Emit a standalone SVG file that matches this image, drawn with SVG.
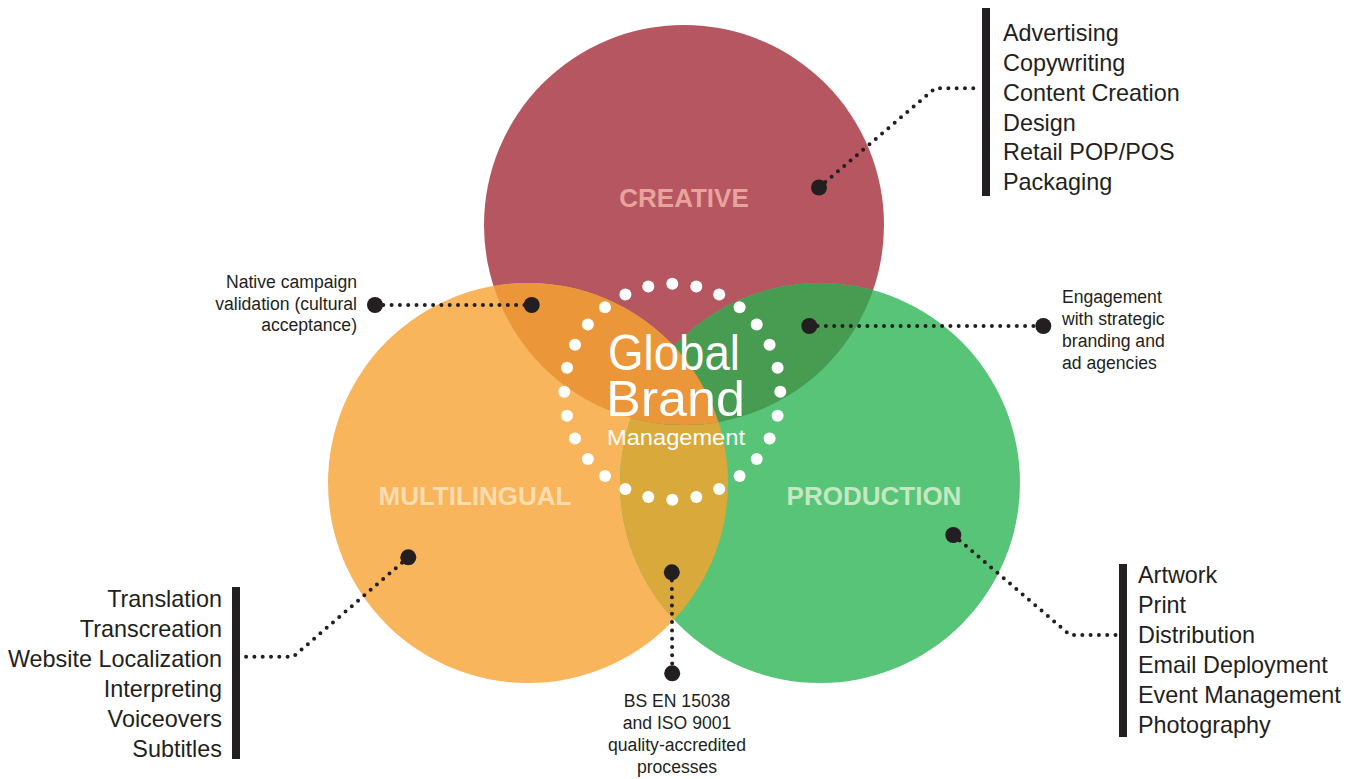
<svg xmlns="http://www.w3.org/2000/svg" width="1357" height="779" viewBox="0 0 1357 779">
  <style>
    .lbl { font-family: "Liberation Sans", Arial, sans-serif; font-weight: bold; font-size: 26px; text-anchor: middle; }
    .list { font-family: "Liberation Sans", Arial, sans-serif; font-size: 23.4px; fill: #231F20; }
    .note { font-family: "Liberation Sans", Arial, sans-serif; font-size: 17.6px; fill: #231F20; }
    .title { font-family: "Liberation Sans", Arial, sans-serif; fill: #FFFFFF; }
    .bar { fill: #231F20; }
    .pin { fill: #231F20; }
    .dots { fill: none; stroke: #231F20; stroke-width: 4; stroke-linecap: round; stroke-linejoin: round; stroke-dasharray: 0 8.3; }
    .ring circle { fill: #FFFFFF; }
  </style>
  <defs>
    <clipPath id="clipCreative"><circle cx="684" cy="225" r="200"/></clipPath>
    <clipPath id="clipMulti"><circle cx="528" cy="483" r="200"/></clipPath>
  </defs>

  <rect width="1357" height="779" fill="#FFFFFF"/>

  <!-- base circles -->
  <g id="creative"><circle cx="684" cy="225" r="200" fill="#B55661"/></g>
  <g id="multilingual"><circle cx="528" cy="483" r="200" fill="#F8B55B"/></g>
  <g id="production"><circle cx="820" cy="483" r="200" fill="#57C478"/></g>

  <!-- overlaps -->
  <g id="overlaps">
    <circle cx="820" cy="483" r="200" fill="#D9A93B" clip-path="url(#clipMulti)"/>
    <circle cx="820" cy="483" r="200" fill="#479C52" clip-path="url(#clipCreative)"/>
    <circle cx="528" cy="483" r="200" fill="#EC963A" clip-path="url(#clipCreative)"/>
  </g>

  <!-- circle labels -->
  <g id="labels">
    <text class="lbl" x="684" y="207" fill="#E8A39D">CREATIVE</text>
    <text class="lbl" x="475" y="505" fill="#FDDDB0">MULTILINGUAL</text>
    <text class="lbl" x="874" y="505" fill="#C5E8C2">PRODUCTION</text>
  </g>

  <!-- centre ring of dots and title -->
  <g id="center">
    <g class="ring">
      <circle cx="672.3" cy="283.7" r="6"/><circle cx="696.3" cy="286.4" r="6"/>
      <circle cx="719.2" cy="294.4" r="6"/><circle cx="739.6" cy="307.3" r="6"/>
      <circle cx="756.7" cy="324.4" r="6"/><circle cx="769.6" cy="344.8" r="6"/>
      <circle cx="777.6" cy="367.7" r="6"/><circle cx="780.3" cy="391.7" r="6"/>
      <circle cx="777.6" cy="415.7" r="6"/><circle cx="769.6" cy="438.6" r="6"/>
      <circle cx="756.7" cy="459.0" r="6"/><circle cx="739.6" cy="476.1" r="6"/>
      <circle cx="719.2" cy="489.0" r="6"/><circle cx="696.3" cy="497.0" r="6"/>
      <circle cx="672.3" cy="499.7" r="6"/><circle cx="648.3" cy="497.0" r="6"/>
      <circle cx="625.4" cy="489.0" r="6"/><circle cx="605.0" cy="476.1" r="6"/>
      <circle cx="587.9" cy="459.0" r="6"/><circle cx="575.0" cy="438.6" r="6"/>
      <circle cx="567.0" cy="415.7" r="6"/><circle cx="564.3" cy="391.7" r="6"/>
      <circle cx="567.0" cy="367.7" r="6"/><circle cx="575.0" cy="344.8" r="6"/>
      <circle cx="587.9" cy="324.4" r="6"/><circle cx="605.0" cy="307.3" r="6"/>
      <circle cx="625.4" cy="294.4" r="6"/><circle cx="648.3" cy="286.4" r="6"/>
    </g>
    <text class="title" font-size="50"><tspan x="608" y="370" textLength="132" lengthAdjust="spacingAndGlyphs">Global</tspan><tspan x="606" y="416" textLength="139" lengthAdjust="spacingAndGlyphs">Brand</tspan></text>
    <text class="title" x="607" y="445" font-size="22.5" textLength="138" lengthAdjust="spacingAndGlyphs">Management</text>
  </g>

  <!-- connectors -->
  <g id="connectors">
    <polyline class="dots" points="819,187.5 935,88.3 980,88.3"/>
    <polyline class="dots" points="408.3,557.3 293.3,656.7 242,656.7"/>
    <polyline class="dots" points="953.3,535 1070,635 1118,635"/>
    <line class="dots" x1="375" y1="305" x2="531.7" y2="305"/>
    <line class="dots" x1="809.3" y1="326" x2="1043.3" y2="326"/>
    <line class="dots" x1="671.8" y1="572.3" x2="672.2" y2="673.3"/>
    <circle class="pin" cx="819" cy="187.5" r="8"/>
    <circle class="pin" cx="408.3" cy="557.3" r="8"/>
    <circle class="pin" cx="953.3" cy="535" r="8"/>
    <circle class="pin" cx="375" cy="305" r="8"/>
    <circle class="pin" cx="531.7" cy="305" r="8"/>
    <circle class="pin" cx="809.3" cy="326" r="8"/>
    <circle class="pin" cx="1043.3" cy="326" r="8"/>
    <circle class="pin" cx="671.8" cy="572.3" r="8"/>
    <circle class="pin" cx="672.2" cy="673.3" r="8"/>
  </g>

  <!-- creative services list -->
  <g id="creative-list">
    <rect class="bar" x="982" y="8" width="8" height="188"/>
    <text class="list" x="1003" y="41">Advertising</text>
    <text class="list" x="1003" y="71">Copywriting</text>
    <text class="list" x="1003" y="101">Content Creation</text>
    <text class="list" x="1003" y="131">Design</text>
    <text class="list" x="1003" y="160">Retail POP/POS</text>
    <text class="list" x="1003" y="190">Packaging</text>
  </g>

  <!-- multilingual services list -->
  <g id="multilingual-list">
    <rect class="bar" x="232" y="587" width="8" height="172"/>
    <g text-anchor="end">
      <text class="list" x="222" y="607">Translation</text>
      <text class="list" x="222" y="637">Transcreation</text>
      <text class="list" x="222" y="667">Website Localization</text>
      <text class="list" x="222" y="697">Interpreting</text>
      <text class="list" x="222" y="727">Voiceovers</text>
      <text class="list" x="222" y="757">Subtitles</text>
    </g>
  </g>

  <!-- production services list -->
  <g id="production-list">
    <rect class="bar" x="1119" y="564" width="8" height="173"/>
    <text class="list" x="1138" y="583">Artwork</text>
    <text class="list" x="1138" y="613">Print</text>
    <text class="list" x="1138" y="643">Distribution</text>
    <text class="list" x="1138" y="673">Email Deployment</text>
    <text class="list" x="1138" y="703">Event Management</text>
    <text class="list" x="1138" y="733">Photography</text>
  </g>

  <!-- overlap notes -->
  <g id="note-native" text-anchor="end">
    <text class="note" x="357" y="288">Native campaign</text>
    <text class="note" x="357" y="310">validation (cultural</text>
    <text class="note" x="357" y="331">acceptance)</text>
  </g>
  <g id="note-engagement">
    <text class="note" x="1062" y="303">Engagement</text>
    <text class="note" x="1062" y="325">with strategic</text>
    <text class="note" x="1062" y="347">branding and</text>
    <text class="note" x="1062" y="369">ad agencies</text>
  </g>
  <g id="note-quality" text-anchor="middle">
    <text class="note" x="677" y="707">BS EN 15038</text>
    <text class="note" x="677" y="729">and ISO 9001</text>
    <text class="note" x="677" y="751">quality-accredited</text>
    <text class="note" x="677" y="773">processes</text>
  </g>
</svg>
